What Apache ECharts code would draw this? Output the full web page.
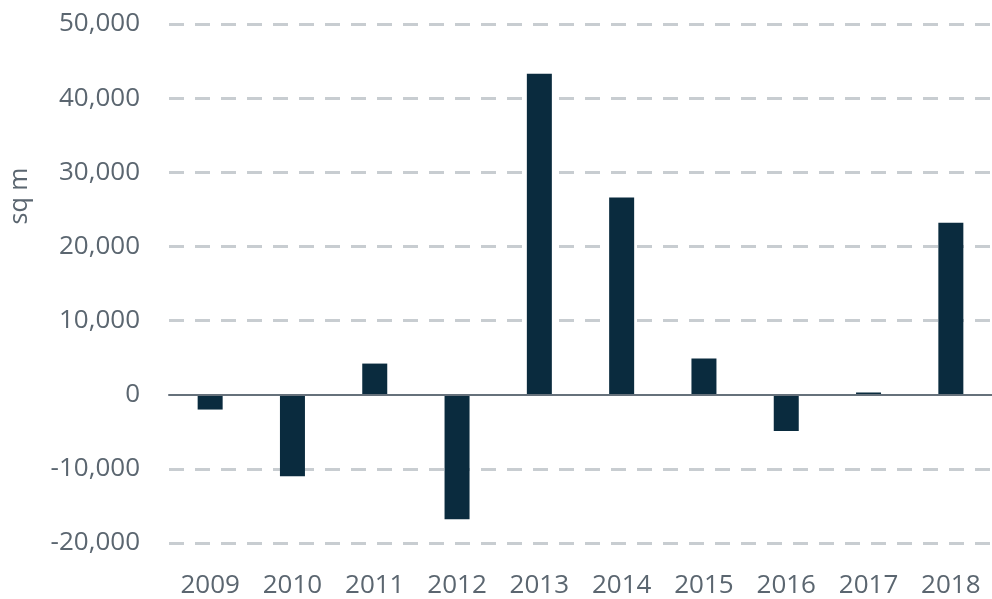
<!DOCTYPE html>
<html>
<head>
<meta charset="utf-8">
<script src="https://cdn.jsdelivr.net/npm/echarts@6/dist/echarts.min.js"></script>
<style>
  html, body { margin: 0; padding: 0; background: #fff; }
  #main { width: 992px; height: 599px; }
</style>
</head>
<body>
<div id="main"></div>
<script>
var years = ['2009', '2010', '2011', '2012', '2013', '2014', '2015', '2016', '2017', '2018'];
var values = [-2000, -11000, 4200, -16800, 43300, 26600, 4900, -4900, 300, 23200];
var unitLabel = 'sq m';

var chart = echarts.init(document.getElementById('main'));
var labelColor = '#5b6670';
var font = 'Open Sans';
var gridGray = '#c8cdd1';

var option = {
  backgroundColor: '#fff',
  animation: false,
  grid: { left: 169, right: 0, top: 24, bottom: 56 },
  graphic: [{
    type: 'text',
    x: 20,
    y: 196,
    rotation: Math.PI / 2,
    style: {
      text: unitLabel,
      fill: labelColor,
      font: '25px "Open Sans"',
      align: 'center',
      verticalAlign: 'middle'
    }
  }],
  xAxis: [{
    type: 'category',
    data: years,
    axisLine: { show: false, onZero: false },
    axisTick: { show: false },
    axisLabel: { color: labelColor, fontSize: 26, fontFamily: font, margin: 30 }
  }, {
    type: 'category',
    data: years,
    position: 'bottom',
    axisLine: { show: true, onZero: true, lineStyle: { color: '#66717b', width: 2 } },
    axisTick: { show: false },
    axisLabel: { show: false },
    z: 5
  }],
  yAxis: {
    type: 'value',
    min: -20000,
    max: 50000,
    interval: 10000,
    axisLine: { show: false },
    axisTick: { show: false },
    axisLabel: {
      color: labelColor, fontSize: 26, fontFamily: font, margin: 29,
      formatter: function (v) { return v.toLocaleString('en-US'); }
    },
    splitLine: {
      show: true,
      // no dashed line at zero, the axis line sits there
      lineStyle: {
        color: [gridGray, gridGray, 'rgba(0,0,0,0)', gridGray, gridGray, gridGray, gridGray, gridGray],
        width: 3,
        type: [15, 11]
      }
    }
  },
  series: [{
    type: 'bar',
    data: values,
    barWidth: 25,
    itemStyle: { color: '#0a2b3e' },
    z: 3
  }]
};
chart.setOption(option);
</script>
</body>
</html>
